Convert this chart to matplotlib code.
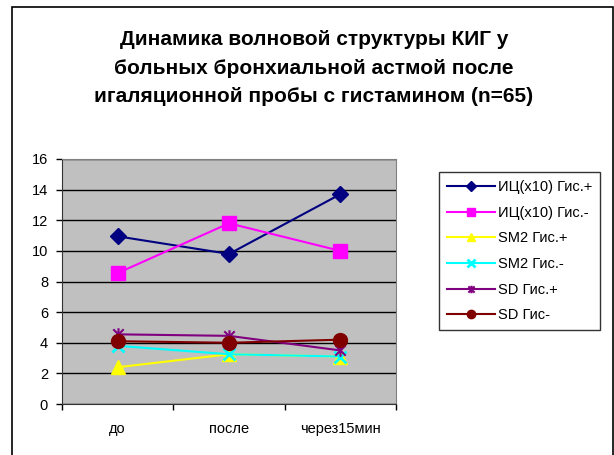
import numpy as np
import matplotlib.pyplot as plt
from matplotlib.path import Path
from matplotlib.patches import Rectangle
from matplotlib.lines import Line2D

plt.rcParams['font.family'] = ['Liberation Sans', 'DejaVu Sans']

# data
categories = ['до', 'после', 'через15мин']
ic_plus = [10.95, 9.8, 13.7]
ic_minus = [8.55, 11.8, 10.0]
sm2_plus = [2.4, 3.25, 3.1]
sm2_minus = [3.8, 3.25, 3.1]
sd_plus = [4.55, 4.45, 3.5]
sd_minus = [4.1, 4.0, 4.2]
series_names = ['ИЦ(x10) Гис.+', 'ИЦ(x10) Гис.-', 'SM2 Гис.+', 'SM2 Гис.-', 'SD Гис.+', 'SD Гис-']

# asterisk marker: x with a vertical bar
star = Path([(-1, -1), (1, 1), (-1, 1), (1, -1), (0, -1.2), (0, 1.2)],
            [Path.MOVETO, Path.LINETO, Path.MOVETO, Path.LINETO, Path.MOVETO, Path.LINETO])

styles = [
    dict(color='#000080', marker='D', ms=8),
    dict(color='#FF00FF', marker='s', ms=10),
    dict(color='#FFFF00', marker='^', ms=10),
    dict(color='#00FFFF', marker='x', ms=9, mew=2),
    dict(color='#800080', marker=star, ms=9, mew=1.5),
    dict(color='#800000', marker='o', ms=10),
]
series = [ic_plus, ic_minus, sm2_plus, sm2_minus, sd_plus, sd_minus]

fig = plt.figure(figsize=(6.14, 4.55), dpi=100)
ax = fig.add_axes([62/614, 1 - 404/455, (396 - 62)/614, (404 - 159)/455])
ax.set_facecolor('#C0C0C0')

x = np.arange(len(categories))
handles = []
for vals, st, name in zip(series, styles, series_names):
    ax.plot(x, vals, color=st['color'], lw=1.5, marker=st['marker'], ms=st['ms'],
            mew=st.get('mew', 1), mfc=st['color'], mec=st['color'], zorder=3)
    handles.append(Line2D([], [], color=st['color'], lw=1.5, marker=st['marker'],
                          ms=st['ms'] * 0.6, mew=st.get('mew', 1), mfc=st['color'],
                          mec=st['color'], label=name))

ax.set_xlim(-0.5, 2.5)
ax.set_ylim(0, 16)
ax.set_yticks(np.arange(0, 17, 2))
ax.yaxis.grid(True, color='black', lw=1)
ax.set_axisbelow(True)
ax.set_xticks(x)
ax.set_xticklabels(categories)
ax.set_xticks([-0.5, 0.5, 1.5, 2.5], minor=True)
ax.tick_params(axis='x', which='major', length=0, pad=13, labelsize=10.5)
ax.tick_params(axis='x', which='minor', length=4, direction='out', width=1)
ax.tick_params(axis='y', length=4, width=1, labelsize=10.5, pad=6)
for s in ['top', 'right']:
    ax.spines[s].set_color('#808080')
for s in ['left', 'bottom']:
    ax.spines[s].set_color('#333333')

fig.text(314/614, 1 - 30/455,
         'Динамика волновой структуры КИГ у\nбольных бронхиальной астмой после\nигаляционной пробы с гистамином (n=65)',
         ha='center', va='top', fontsize=15, fontweight='bold', linespacing=1.64)

leg = fig.legend(handles=handles, loc='upper left',
                 bbox_to_anchor=(439/614, 1 - 172/455), fontsize=10.5,
                 frameon=True, fancybox=False, edgecolor='black',
                 handlelength=3.3, handletextpad=0.2, labelspacing=0.8,
                 borderpad=0.55, borderaxespad=0)
leg.get_frame().set_linewidth(1)

# outer chart frame
fig.patches.append(Rectangle((12/614, -0.05), (613 - 12)/614, 1.05 - 7/455,
                             transform=fig.transFigure, fill=False,
                             edgecolor='black', lw=1.2))

fig.savefig('out.png', dpi=100)
